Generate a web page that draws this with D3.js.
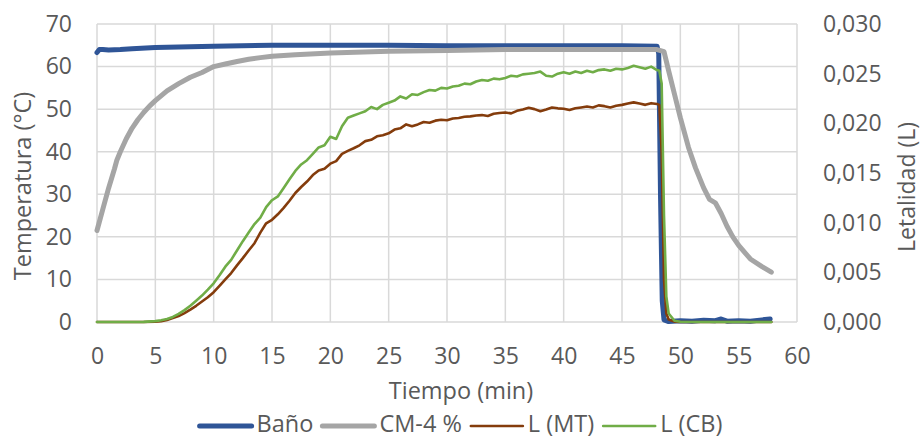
<!DOCTYPE html>
<html>
<head>
<meta charset="utf-8">
<script src="https://cdn.jsdelivr.net/npm/d3@7"></script>
<style>
  body { margin: 0; background: #fff; }
  svg text { font-family: "Open Sans", sans-serif; fill: #595959; }
</style>
</head>
<body>
<svg id="chart" width="922" height="438"></svg>
<script>
// ---- data ----
var xTicks = [0, 5, 10, 15, 20, 25, 30, 35, 40, 45, 50, 55, 60];
var tempTicks = [0, 10, 20, 30, 40, 50, 60, 70];
var letTicks = [0, 0.005, 0.010, 0.015, 0.020, 0.025, 0.030];
var seriesNames = ["Baño", "CM-4 %", "L (MT)", "L (CB)"];

// Baño (°C)
var tBath = [0, 0.2, 0.5, 1, 2, 3, 5, 7, 10, 15, 20, 25, 30, 35, 40, 45, 48, 48.15, 48.3, 48.45, 48.6, 49, 50, 51, 52, 53, 53.5, 54, 55, 56, 57, 57.7];
var bath = [63.3, 64.0, 64.0, 63.9, 64.0, 64.2, 64.5, 64.6, 64.8, 65.0, 65.0, 65.0, 64.9, 64.9, 64.9, 64.9, 64.8, 63.0, 30.0, 5.0, 0.5, 0.1, 0.3, 0.2, 0.4, 0.3, 0.7, 0.2, 0.3, 0.2, 0.5, 0.7];

// CM-4 % (°C)
var tCM = [0, 0.5, 1, 1.5, 1.7, 2, 2.5, 3, 3.5, 4,
  4.5, 5, 6, 7, 8, 9, 10, 11, 12, 13,
  14, 15, 17, 20, 25, 30, 35, 40, 45, 48,
  48.6, 49, 49.5, 50, 50.7, 51.3, 52, 52.5, 53, 53.5,
  54, 54.5, 55, 56, 57, 57.8];
var cm = [21.5, 26.5, 31.5, 36, 38, 40, 43, 45.5, 47.5, 49.2,
  50.7, 52, 54.3, 56, 57.5, 58.6, 60, 60.6, 61.2, 61.7,
  62.1, 62.4, 62.8, 63.2, 63.6, 63.8, 64, 64, 64, 64,
  63.5, 59, 53.5, 48, 41, 36.2, 31.5, 28.8, 28.0, 25.5,
  22.5, 20, 18, 14.8, 13, 11.7];

// letalidad (L), right axis
var tL = [0, 1, 2, 3, 4, 5,
  5.5, 6, 6.5, 7, 7.5, 8, 8.5, 9, 9.5, 10,
  10.5, 11, 11.5, 12, 12.5, 13, 13.5, 14, 14.5, 15,
  15.5, 16, 16.5, 17, 17.5, 18, 18.5, 19, 19.5, 20,
  20.5, 21, 21.5, 22, 22.5, 23, 23.5, 24, 24.5, 25,
  25.5, 26, 26.5, 27, 27.5, 28, 28.5, 29, 29.5, 30,
  30.5, 31, 31.5, 32, 32.5, 33, 33.5, 34, 34.5, 35,
  35.5, 36, 36.5, 37, 37.5, 38, 38.5, 39, 39.5, 40,
  40.5, 41, 41.5, 42, 42.5, 43, 43.5, 44, 44.5, 45,
  45.5, 46, 46.5, 47, 47.5, 48,
  48.2, 48.4, 48.6, 48.8, 49, 49.5, 50, 52, 54, 56, 57.8];

var lMT = [0, 0, 0, 0, 0, 0.00004,
  0.00009, 0.00021, 0.00039, 0.00060, 0.00090, 0.00124, 0.00163, 0.00206, 0.00249, 0.00300,
  0.00364, 0.00429, 0.00493, 0.00570, 0.00643, 0.00720, 0.00793, 0.00900, 0.00994, 0.01029,
  0.01084, 0.01149, 0.01221, 0.01299, 0.01359, 0.01414, 0.01479, 0.01526, 0.01543, 0.01594,
  0.01620, 0.01693, 0.01723, 0.01749, 0.01779, 0.01821, 0.01834, 0.01869, 0.01881, 0.01899,
  0.01937, 0.01950, 0.01989, 0.01971, 0.01989, 0.02014, 0.02006, 0.02027, 0.02036, 0.02031,
  0.02049, 0.02053, 0.02066, 0.02070, 0.02079, 0.02083, 0.02074, 0.02096, 0.02104, 0.02109,
  0.02100, 0.02126, 0.02139, 0.02156, 0.02143, 0.02121, 0.02139, 0.02160, 0.02151, 0.02147,
  0.02134, 0.02151, 0.02160, 0.02169, 0.02160, 0.02181, 0.02173, 0.02160, 0.02177, 0.02186,
  0.02199, 0.02211, 0.02199, 0.02186, 0.02203, 0.02194,
  0.02186, 0.01714, 0.00429, 0.00086, 0.00026, 0.00004, 0, 0, 0, 0, 0];

var lCB = [0, 0, 0, 0, 0.00001, 0.00009,
  0.00017, 0.00030, 0.00051, 0.00081, 0.00120, 0.00163, 0.00214, 0.00266, 0.00326, 0.00390,
  0.00471, 0.00557, 0.00626, 0.00720, 0.00814, 0.00900, 0.00986, 0.01050, 0.01157, 0.01226,
  0.01264, 0.01350, 0.01436, 0.01521, 0.01586, 0.01629, 0.01693, 0.01757, 0.01779, 0.01864,
  0.01843, 0.01971, 0.02057, 0.02079, 0.02100, 0.02122, 0.02164, 0.02143, 0.02186, 0.02207,
  0.02229, 0.02271, 0.02250, 0.02293, 0.02286, 0.02314, 0.02336, 0.02329, 0.02357, 0.02350,
  0.02371, 0.02379, 0.02400, 0.02393, 0.02421, 0.02436, 0.02429, 0.02450, 0.02443, 0.02457,
  0.02479, 0.02471, 0.02493, 0.02500, 0.02507, 0.02521, 0.02479, 0.02471, 0.02500, 0.02514,
  0.02500, 0.02521, 0.02507, 0.02529, 0.02514, 0.02536, 0.02543, 0.02529, 0.02550, 0.02543,
  0.02557, 0.02579, 0.02564, 0.02550, 0.02571, 0.02536,
  0.02529, 0.02400, 0.01071, 0.00257, 0.00086, 0.00013, 0.00002, 0, 0, 0, 0];

// ---- layout ----
var plotLeft = 97, plotRight = 797, plotTop = 24, plotBottom = 322;
var svg = d3.select("#chart");

var x = d3.scaleLinear().domain([0, 60]).range([plotLeft, plotRight]);
var yT = d3.scaleLinear().domain([0, 70]).range([plotBottom, plotTop]);
var yL = d3.scaleLinear().domain([0, 0.03]).range([plotBottom, plotTop]);

var esFmt = d3.formatLocale({decimal: ",", thousands: ".", grouping: [3], currency: ["", "€"]}).format(".3f");

//gridlines
svg.append("g").selectAll("line")
   .data(tempTicks).enter().append("line")
   .attr("x1", plotLeft).attr("x2", plotRight)
   .attr("y1", function(d){ return yT(d); })
   .attr("y2", function(d){ return yT(d); })
   .attr("stroke", "#d9d9d9").attr("stroke-width", 1.5);

svg.append("g").selectAll("line")
   .data(xTicks).enter().append("line")
   .attr("y1", plotTop).attr("y2", plotBottom)
   .attr("x1", function(d){ return x(d); })
   .attr("x2", function(d){ return x(d); })
   .attr("stroke", "#d9d9d9").attr("stroke-width", 1.5);

//axes (labels only)
var xAxis = svg.append("g")
   .attr("transform", "translate(0," + plotBottom + ")")
   .call(d3.axisBottom(x).tickValues(xTicks).tickSize(0).tickPadding(26));
var yAxisL = svg.append("g")
   .attr("transform", "translate(" + plotLeft + ",0)")
   .call(d3.axisLeft(yT).tickValues(tempTicks).tickSize(0).tickPadding(25));
var yAxisR = svg.append("g")
   .attr("transform", "translate(" + plotRight + ",0)")
   .call(d3.axisRight(yL).tickValues(letTicks).tickSize(0).tickPadding(26).tickFormat(esFmt));

[xAxis, yAxisL, yAxisR].forEach(function(a){
  a.select(".domain").remove();
  a.selectAll("text").attr("font-size", 23).attr("fill", "#595959")
   .attr("font-family", "'Open Sans', sans-serif");
});

//axis titles
svg.append("text")
   .attr("x", 461).attr("y", 399)
   .attr("text-anchor", "middle").attr("font-size", 23.5)
   .text("Tiempo (min)");
svg.append("text")
   .attr("transform", "translate(31,186) rotate(-90)")
   .attr("text-anchor", "middle").attr("font-size", 23.5)
   .text("Temperatura (°C)");
svg.append("text")
   .attr("transform", "translate(915,187) rotate(-90)")
   .attr("text-anchor", "middle").attr("font-size", 23)
   .text("Letalidad (L)");

//lines
var colors = ["#2f5597", "#a5a5a5", "#843c0c", "#70ad47"];
var widths = [5, 5, 2.6, 2.6];

function pairs(ts, vs){
  return ts.map(function(t, i){ return [t, vs[i]]; });
}

var series = [
  {pts: pairs(tBath, bath), y: yT},
  {pts: pairs(tCM, cm), y: yT},
  {pts: pairs(tL, lMT), y: yL},
  {pts: pairs(tL, lCB), y: yL}
];

series.forEach(function(s, i){
  var line = d3.line()
     .x(function(d){ return x(d[0]); })
     .y(function(d){ return s.y(d[1]); });
  svg.append("path")
     .datum(s.pts)
     .attr("d", line)
     .attr("fill", "none")
     .attr("stroke", colors[i])
     .attr("stroke-width", widths[i])
     .attr("stroke-linejoin", "round")
     .attr("stroke-linecap", "round");
});

//legend
var legend = svg.append("g");
var lx = 0;
seriesNames.forEach(function(name, i){
  var g = legend.append("g").attr("transform", "translate(" + lx + ",0)");
  g.append("line")
   .attr("x1", 2).attr("x2", 54).attr("y1", 0).attr("y2", 0)
   .attr("stroke", colors[i]).attr("stroke-width", widths[i])
   .attr("stroke-linecap", "round");
  var t = g.append("text")
   .attr("x", 59).attr("y", 6).attr("font-size", 23.5)
   .text(name);
  lx += 59 + t.node().getComputedTextLength() + 7;
});
legend.attr("transform", "translate(" + (460 - (lx - 7) / 2) + ",426)");
</script>
</body>
</html>
